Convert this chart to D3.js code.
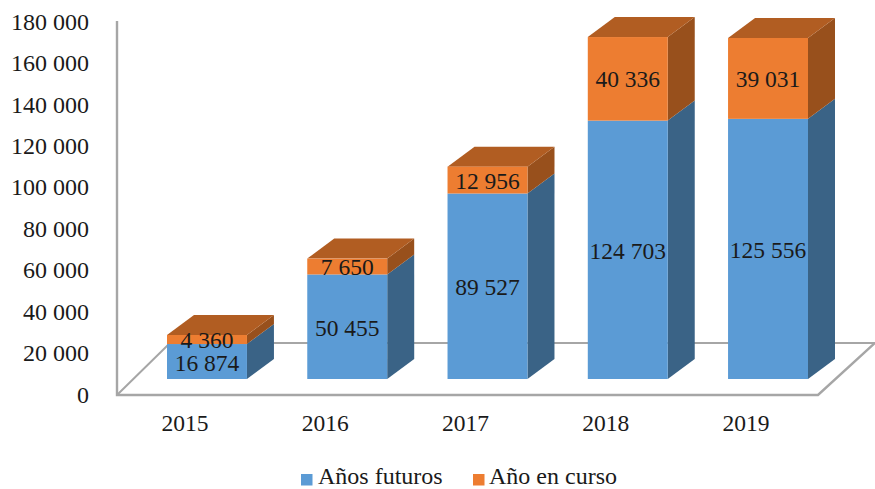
<!DOCTYPE html>
<html>
<head>
<meta charset="utf-8">
<script src="https://cdn.jsdelivr.net/npm/d3@7"></script>
<style>
html,body{margin:0;padding:0;background:#fff}
svg{display:block}
text{font-family:"Liberation Serif",serif;fill:#1a1a1a}
</style>
</head>
<body>
<svg id="c" width="875" height="489"></svg>
<script>
const years = ["2015","2016","2017","2018","2019"];
const futuros = [16874,50455,89527,124703,125556];
const enCurso = [4360,7650,12956,40336,39031];
const labelsFuturos = ["16 874","50 455","89 527","124 703","125 556"];
const labelsEnCurso = ["4 360","7 650","12 956","40 336","39 031"];
const yTicks = [0,20000,40000,60000,80000,100000,120000,140000,160000,180000];
const seriesNames = ["Años futuros","Año en curso"];

const colors = {
  blue:"#5B9BD5", blueSide:"#3A6386",
  orange:"#ED7D31", orangeSide:"#98501C", orangeTop:"#B15D22",
  axis:"#A6A6A6"
};
const svg = d3.select("#c");
const floorY = 379, scalePx = 0.002072;
const y = d3.scaleLinear().domain([0,180000]).range([floorY, floorY-180000*scalePx]);
const x = d3.scaleBand().domain(years).range([167,808]).paddingInner(0.43).paddingOuter(0);
const dx = 27, dy = 20;

// Floor and wall
const wall = svg.append("g").attr("fill","none").attr("stroke",colors.axis).attr("stroke-width",2.4);
wall.append("path").attr("d","M117,21V395H818L875,343");
wall.append("path").attr("d","M117,395L170,343H875").attr("stroke-width",2);

// Value axis
const axisG = svg.append("g").attr("transform","translate(89,15.5)")
  .call(d3.axisLeft(y).tickValues(yTicks).tickSize(0).tickPadding(0)
    .tickFormat(d => d3.format(",")(d).replace(/,/g," ")));
axisG.select(".domain").remove();
axisG.selectAll("text").attr("font-size",24).attr("font-family","Liberation Serif").attr("dy","0.32em")
  .attr("x",0).attr("text-anchor","end");

// Category labels
svg.append("g").selectAll("text").data(years).join("text")
  .attr("x",d=>x(d)+x.bandwidth()/2-22).attr("y",431)
  .attr("text-anchor","middle").attr("font-size",23.5).text(d=>d);

// Bars
const rows = years.map((yr,i)=>({yr,f:futuros[i],c:enCurso[i],lf:labelsFuturos[i],lc:labelsEnCurso[i]}));
const bars = svg.append("g").selectAll("g").data(rows).join("g");
const poly = (g,col,fn)=>g.append("polygon").attr("fill",col).attr("points",fn);
const w = x.bandwidth();
poly(bars,colors.blueSide,d=>{const a=x(d.yr)+w,t=y(d.f),b=y(0);return [[a,b],[a+dx,b-dy],[a+dx,t-dy],[a,t]].join(" ")});
poly(bars,colors.orangeSide,d=>{const a=x(d.yr)+w,t=y(d.f+d.c),b=y(d.f);return [[a,b],[a+dx,b-dy],[a+dx,t-dy],[a,t]].join(" ")});
poly(bars,colors.orangeTop,d=>{const a=x(d.yr),t=y(d.f+d.c);return [[a,t],[a+w,t],[a+w+dx,t-dy],[a+dx,t-dy]].join(" ")});
bars.append("rect").attr("fill",colors.blue).attr("x",d=>x(d.yr)).attr("width",w)
  .attr("y",d=>y(d.f)).attr("height",d=>y(0)-y(d.f));
bars.append("rect").attr("fill",colors.orange).attr("x",d=>x(d.yr)).attr("width",w)
  .attr("y",d=>y(d.f+d.c)).attr("height",d=>y(d.f)-y(d.f+d.c));

// Data labels
bars.append("text").attr("x",d=>x(d.yr)+w/2).attr("y",d=>(y(0)+y(d.f))/2+9)
  .attr("text-anchor","middle").attr("font-size",23.5).text(d=>d.lf);
bars.append("text").attr("x",d=>x(d.yr)+w/2).attr("y",d=>(y(d.f)+y(d.f+d.c))/2+8.5)
  .attr("text-anchor","middle").attr("font-size",23.5).text(d=>d.lc);

// Legend
const legendX = [301,473], legendCols = [colors.blue,colors.orange];
const leg = svg.append("g").selectAll("g").data(seriesNames).join("g")
  .attr("transform",(d,i)=>`translate(${legendX[i]},474)`);
leg.append("rect").attr("width",11.5).attr("height",11.5).attr("fill",(d,i)=>legendCols[i]);
leg.append("text").attr("x",(d,i)=>i?16:17).attr("y",9.5).attr("font-size",24).text(d=>d);
</script>
</body>
</html>
